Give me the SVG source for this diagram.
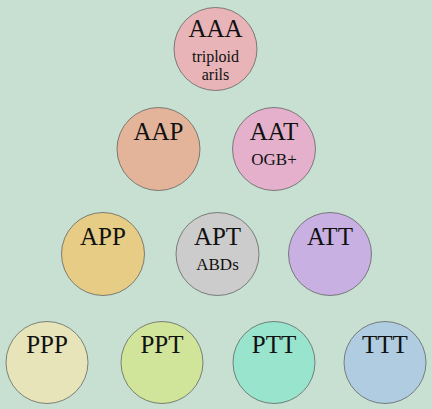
<svg xmlns="http://www.w3.org/2000/svg" width="432" height="409" viewBox="0 0 432 409">
<style>
.n{stroke:#555;stroke-width:0.7}
.t{font-family:"Liberation Serif","Times New Roman",serif;fill:#111;text-anchor:middle}
.m{font-size:25px}
.s{font-size:17px}
.u{font-size:16px}
</style>
<rect width="432" height="409" fill="#c8e0d2"/>
<g id="AAA"><circle class="n" cx="215.5" cy="49" r="41.5" fill="#e8b4b8"/><text class="t m" x="215.5" y="37">AAA</text><text class="t u" x="215.5" y="62">triploid</text><text class="t u" x="215.5" y="80">arils</text></g>
<g id="AAP"><circle class="n" cx="158.5" cy="149" r="41.5" fill="#e4b49a"/><text class="t m" x="158.5" y="140">AAP</text></g>
<g id="AAT"><circle class="n" cx="274" cy="149" r="41.5" fill="#e4b0cc"/><text class="t m" x="274" y="140">AAT</text><text class="t s" x="274" y="165">OGB+</text></g>
<g id="APP"><circle class="n" cx="103" cy="254" r="41.5" fill="#e6cc84"/><text class="t m" x="103" y="245">APP</text></g>
<g id="APT"><circle class="n" cx="217.5" cy="254" r="41.5" fill="#cccccc"/><text class="t m" x="217.5" y="245">APT</text><text class="t s" x="217.5" y="270">ABDs</text></g>
<g id="ATT"><circle class="n" cx="330" cy="254" r="41.5" fill="#c8b0e2"/><text class="t m" x="330" y="245">ATT</text></g>
<g id="PPP"><circle class="n" cx="47" cy="362.5" r="41" fill="#e6e4b8"/><text class="t m" x="47" y="353">PPP</text></g>
<g id="PPT"><circle class="n" cx="162" cy="362.5" r="41" fill="#d0e49a"/><text class="t m" x="162" y="353">PPT</text></g>
<g id="PTT"><circle class="n" cx="274" cy="362.5" r="41" fill="#98e4cc"/><text class="t m" x="274" y="353">PTT</text></g>
<g id="TTT"><circle class="n" cx="385" cy="362.5" r="41" fill="#b0cce0"/><text class="t m" x="385" y="353">TTT</text></g>
<g id="connectors"></g>
</svg>
